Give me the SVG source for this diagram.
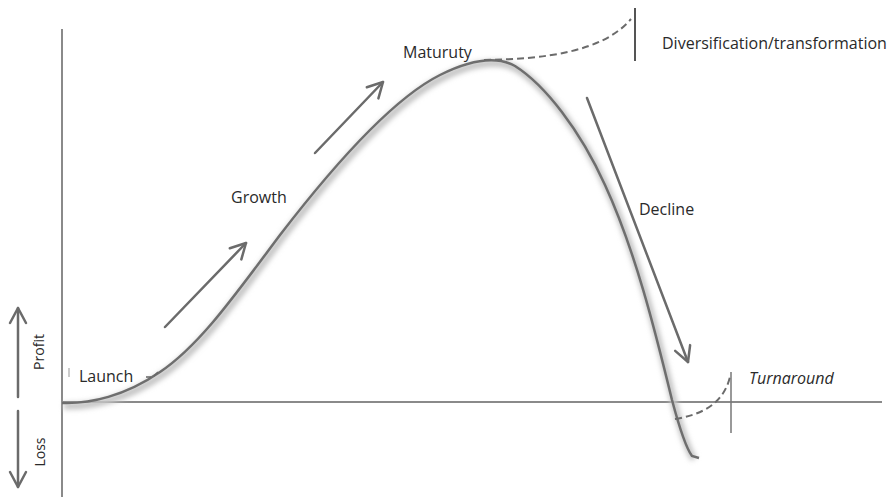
<svg xmlns="http://www.w3.org/2000/svg" width="896" height="497" viewBox="0 0 896 497">
<style>
.ax{stroke:#8a8a8a;stroke-width:2;fill:none}
.arr{stroke:#6b6b6b;stroke-width:2.5;fill:none;stroke-linecap:round}
.dash{stroke:#6b6b6b;stroke-width:2;fill:none;stroke-dasharray:7 4}
.bar{stroke:#555;stroke-width:2;fill:none}
.lbl{font-family:"Open Sans","Liberation Sans",sans-serif;font-size:16px;fill:#2a2a2a}
.side{font-size:14px}
</style>
<defs>
<marker id="ah2" viewBox="0 0 20 20" refX="17" refY="10" markerWidth="20" markerHeight="20" markerUnits="userSpaceOnUse" orient="auto">
<polyline points="2,2 17,10 2,18" fill="none" stroke="#6b6b6b" stroke-width="2.5" stroke-linecap="round" stroke-linejoin="round"/>
</marker>
<filter id="blur" x="-10%" y="-10%" width="120%" height="120%"><feGaussianBlur stdDeviation="2.5"/></filter>
</defs>

<g id="axes">
<line class="ax" x1="62" y1="29" x2="62" y2="497"/>
<line class="ax" x1="62" y1="402" x2="882" y2="402"/>
</g>

<g id="curve">
<path d="M64,406 C92,407 127,399 162,375 C202,348 237,298 282,238 C332,173 392,103 442,78 C472,63 497,58 517,69 C547,88 582,133 607,188 C637,253 657,333 674,403 C682,433 688,451 694,459" stroke="#c4c4c4" stroke-width="7" fill="none" filter="url(#blur)"/>
<path d="M62,403 C90,404 125,396 160,372 C200,345 235,295 280,235 C330,170 390,100 440,75 C470,60 495,55 515,66 C545,85 580,130 605,185 C635,250 655,330 672,400 C680,430 686,448 692,456 L699,458" stroke="#6e6e6e" stroke-width="2.5" fill="none"/>
<line x1="69" y1="368" x2="69" y2="377" stroke="#bbb" stroke-width="1.5"/>
<path d="M146,377 L151,377 M154,376 L158,372" stroke="#666" stroke-width="1.5" fill="none"/>
</g>

<g id="connectors">
<line class="arr" x1="165" y1="327" x2="246" y2="243" marker-end="url(#ah2)"/>
<line class="arr" x1="315" y1="153" x2="383" y2="82" marker-end="url(#ah2)"/>
<line class="arr" x1="587" y1="98" x2="688" y2="362" marker-end="url(#ah2)"/>
<line class="arr" x1="18" y1="397" x2="18" y2="308" marker-end="url(#ah2)"/>
<line class="arr" x1="18" y1="411" x2="18" y2="487" marker-end="url(#ah2)"/>
</g>

<g id="diversification">
<path class="dash" d="M484,60 C545,59 603,52 631,19"/>
<line class="bar" x1="635" y1="8" x2="635" y2="61"/>
<text class="lbl" x="662" y="49">Diversification/transformation</text>
</g>

<g id="turnaround">
<path class="dash" d="M675,419 C700,415 723,405 730,377"/>
<line x1="731" y1="372" x2="731" y2="433" stroke="#777" stroke-width="1.5"/>
<text class="lbl" x="749" y="384" font-style="italic" font-size="15">Turnaround</text>
</g>

<g id="launch"><text class="lbl" x="79" y="382">Launch</text></g>
<g id="growth"><text class="lbl" x="231" y="203">Growth</text></g>
<g id="maturity"><text class="lbl" x="403" y="58">Maturuty</text></g>
<g id="decline"><text class="lbl" x="639" y="215">Decline</text></g>
<g id="profit"><text class="lbl side" transform="translate(44,352) rotate(-90)" text-anchor="middle">Profit</text></g>
<g id="loss"><text class="lbl side" transform="translate(45,452) rotate(-90)" text-anchor="middle">Loss</text></g>
</svg>
